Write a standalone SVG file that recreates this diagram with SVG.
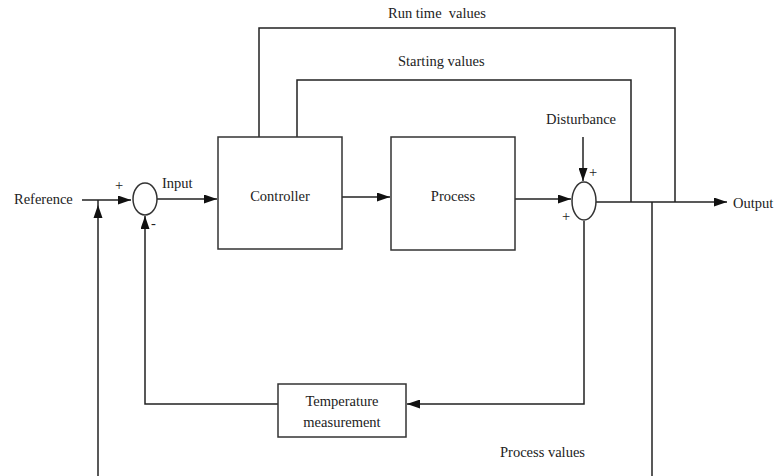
<svg xmlns="http://www.w3.org/2000/svg" width="777" height="476" viewBox="0 0 777 476">
<style>
text{font-family:"Liberation Serif","Times New Roman",serif;font-size:14.5px;fill:#222;white-space:pre}
.b{fill:#fff;stroke:#333;stroke-width:1.5}
.l{fill:none;stroke:#222;stroke-width:1.5}
.a{fill:#111}
</style>
<defs>
<marker id="ah" markerWidth="13" markerHeight="9" refX="13" refY="4.5" orient="auto" markerUnits="userSpaceOnUse">
<path d="M0,0 L13,4.5 L0,9 Z" class="a"/>
</marker>
</defs>
<rect width="777" height="476" fill="#fff"/>
<g id="connectors">
<path class="l" d="M82,200 H131" marker-end="url(#ah)"/>
<path class="l" d="M98,476 V200"/>
<path class="a" d="M98,205 L102.5,218 L93.5,218 Z"/>
<path class="l" d="M157,199 H217" marker-end="url(#ah)"/>
<path class="l" d="M342,197 H390" marker-end="url(#ah)"/>
<path class="l" d="M515,199 H571" marker-end="url(#ah)"/>
<path class="l" d="M583,137 V181" marker-end="url(#ah)"/>
<path class="l" d="M596,202 H727" marker-end="url(#ah)"/>
<path class="l" d="M259,137 V28 H675 V202"/>
<path class="l" d="M297,137 V80 H631 V202"/>
<path class="l" d="M652,202 V476"/>
<path class="l" d="M584,221 V404 H407" marker-end="url(#ah)"/>
<path class="l" d="M278,404 H145 V216" marker-end="url(#ah)"/>
</g>
<g id="sum1">
<ellipse class="b" cx="145" cy="199" rx="12" ry="16"/>
<text x="115" y="190">+</text>
<text x="151" y="228">-</text>
</g>
<g id="sum2">
<ellipse class="b" cx="584" cy="201" rx="12" ry="19"/>
<text x="589" y="177">+</text>
<text x="562" y="221">+</text>
</g>
<g id="controller">
<rect class="b" x="218" y="137" width="124" height="112"/>
<text x="280" y="201" text-anchor="middle">Controller</text>
</g>
<g id="process">
<rect class="b" x="391" y="137" width="124" height="113"/>
<text x="453" y="201" text-anchor="middle">Process</text>
</g>
<g id="temperature">
<rect class="b" x="278" y="384" width="128" height="53"/>
<text x="342" y="406" text-anchor="middle">Temperature</text>
<text x="342" y="427" text-anchor="middle">measurement</text>
</g>
<g id="labels">
<text x="14" y="204">Reference</text>
<text x="162" y="188">Input</text>
<text x="388" y="18">Run time  values</text>
<text x="398" y="66">Starting values</text>
<text x="546" y="124">Disturbance</text>
<text x="733" y="208">Output</text>
<text x="500" y="457">Process values</text>
</g>
</svg>
